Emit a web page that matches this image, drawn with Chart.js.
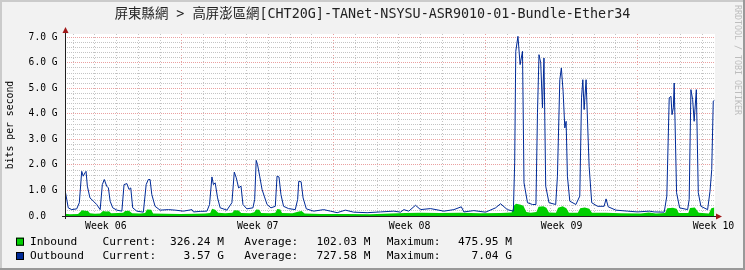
<!DOCTYPE html>
<html>
<head>
<meta charset="utf-8">
<script src="https://cdn.jsdelivr.net/npm/chart.js@4.4.1/dist/chart.umd.min.js"></script>
<style>
  html, body { margin: 0; padding: 0; background: #f2f2f2; }
  canvas { display: block; }
</style>
</head>
<body>
<canvas id="traffic" width="745" height="270"></canvas>
<script>
// Texts
const graphTitle = "屏東縣網 > 高屏澎區網[CHT20G]-TANet-NSYSU-ASR9010-01-Bundle-Ether34";
const yAxisTitle = "bits per second";
const watermark = "RRDTOOL / TOBI OETIKER";

// X axis: days from the left edge of the graph
const weekLabels = ["Week 06", "Week 07", "Week 08", "Week 09", "Week 10"];
const weekLabelDays = [1.88, 8.88, 15.88, 22.88, 29.88];
const dayLineStart = 0.38; // first day grid line, every 7th one is a week line
const dayCount = 30;
const xMax = 29.95;

// Y axis (Gbit/s)
const yTickValues = [0, 1, 2, 3, 4, 5, 6, 7];
const yTickLabels = ["0.0  ", "1.0 G", "2.0 G", "3.0 G", "4.0 G", "5.0 G", "6.0 G", "7.0 G"];
const yMax = 7.13;

// Outbound (Gbit/s)
const outDays = [0.00,0.15,0.31,0.54,0.66,0.77,0.84,0.92,0.97,1.03,
  1.15,1.31,1.46,1.62,1.72,1.81,1.92,2.00,2.08,2.20,
  2.39,2.62,2.72,2.85,2.95,3.03,3.12,3.31,3.61,3.74,
  3.84,3.92,4.00,4.15,4.38,4.77,5.08,5.46,5.85,5.92,
  6.23,6.54,6.66,6.77,6.84,6.92,7.03,7.15,7.46,7.69,
  7.80,7.89,8.00,8.11,8.20,8.38,8.66,8.74,8.81,8.87,
  8.97,9.08,9.18,9.31,9.49,9.69,9.77,9.86,9.95,10.07,
  10.30,10.61,10.72,10.77,10.88,10.97,11.12,11.46,11.92,12.23,
  12.54,12.92,13.30,13.92,14.54,15.15,15.46,15.61,15.84,16.15,
  16.38,16.84,17.46,17.92,18.26,18.38,18.84,19.38,19.84,20.07,
  20.38,20.66,20.72,20.77,20.87,20.97,21.08,21.15,21.31,21.54,
  21.70,21.77,21.84,21.92,22.00,22.07,22.15,22.30,22.61,22.69,
  22.80,22.87,22.95,23.03,23.09,23.15,23.26,23.54,23.72,23.80,
  23.86,23.92,24.01,24.15,24.27,24.54,24.84,24.93,25.03,25.38,
  25.92,26.38,26.92,27.15,27.61,27.73,27.84,27.92,27.97,28.03,
  28.07,28.18,28.32,28.69,28.76,28.84,28.92,28.99,29.09,29.18,
  29.30,29.61,29.72,29.80,29.87,29.92];
const outGbps = [1.03,0.32,0.25,0.28,0.52,1.75,1.56,1.69,1.75,1.17,
  0.71,0.58,0.45,0.25,1.23,1.43,1.17,1.10,0.58,0.32,
  0.23,0.19,1.23,1.27,1.04,1.10,0.32,0.19,0.15,1.23,
  1.43,1.43,0.84,0.38,0.23,0.25,0.23,0.19,0.25,0.16,
  0.18,0.19,0.45,1.53,1.23,1.30,0.71,0.32,0.23,0.52,
  1.72,1.50,1.10,1.17,0.45,0.28,0.32,0.65,2.18,2.02,
  1.56,1.04,0.78,0.45,0.32,0.38,1.56,1.53,0.84,0.38,
  0.29,0.25,0.65,1.36,1.34,0.71,0.28,0.19,0.25,0.19,
  0.13,0.23,0.15,0.13,0.16,0.19,0.15,0.25,0.19,0.42,
  0.25,0.29,0.19,0.25,0.36,0.16,0.21,0.15,0.32,0.48,
  0.25,0.19,2.08,6.45,7.04,5.93,6.45,1.30,0.52,0.45,
  0.45,4.04,6.32,6.00,4.24,6.19,1.17,0.52,0.45,1.56,
  5.34,5.80,4.89,3.45,3.71,1.56,0.58,0.45,0.78,4.63,
  5.34,4.17,5.34,1.95,0.52,0.38,0.38,0.67,0.36,0.23,
  0.19,0.16,0.19,0.16,0.15,0.78,4.63,4.69,3.97,4.24,
  5.21,0.91,0.32,0.25,0.65,4.95,4.56,3.71,4.95,0.91,
  0.38,0.25,0.97,1.82,4.50,4.53];

// Inbound (Gbit/s)
const inDays = [0.00,0.23,0.60,0.69,0.78,0.92,1.06,1.15,1.38,1.62,
  1.75,1.89,2.03,2.12,2.45,2.68,2.77,2.95,3.09,3.46,
  3.69,3.78,3.97,4.06,4.61,5.31,6.00,6.46,6.69,6.78,
  6.92,7.06,7.38,7.71,7.80,8.00,8.12,8.54,8.72,8.81,
  8.95,9.04,9.46,9.69,9.78,9.92,10.00,10.48,10.77,10.90,
  11.04,11.77,12.92,14.07,15.00,15.69,16.38,17.30,18.23,19.15,
  20.07,20.58,20.68,20.78,21.00,21.12,21.26,21.46,21.72,21.82,
  22.04,22.18,22.30,22.62,22.72,22.93,23.10,23.22,23.63,23.74,
  23.95,24.16,24.28,24.92,25.61,26.53,26.90,27.23,27.65,27.75,
  28.01,28.18,28.28,28.72,28.80,29.02,29.20,29.67,29.78,29.92];
const inGbps = [0.09,0.07,0.08,0.15,0.23,0.21,0.20,0.11,0.09,0.10,
  0.20,0.18,0.19,0.11,0.12,0.13,0.20,0.21,0.11,0.10,
  0.12,0.25,0.24,0.10,0.09,0.08,0.09,0.10,0.12,0.28,
  0.24,0.13,0.11,0.13,0.23,0.22,0.12,0.11,0.15,0.25,
  0.24,0.12,0.11,0.13,0.27,0.25,0.12,0.11,0.18,0.20,
  0.10,0.08,0.08,0.07,0.10,0.12,0.13,0.12,0.13,0.11,
  0.12,0.14,0.40,0.48,0.44,0.40,0.16,0.13,0.16,0.36,
  0.38,0.32,0.14,0.13,0.32,0.38,0.30,0.13,0.13,0.30,
  0.33,0.28,0.13,0.13,0.11,0.10,0.14,0.10,0.12,0.30,
  0.32,0.28,0.12,0.12,0.31,0.33,0.13,0.10,0.30,0.33];

// Legend table
const legendNames = ["Inbound", "Outbound"];
const legendCurrent = ["326.24 M", "3.57 G"];
const legendAverage = ["102.03 M", "727.58 M"];
const legendMaximum = ["475.95 M", "7.04 G"];

// Colours
const inColor = "#00cf00";
const outColor = "#002a97";
const gridMinor = "#c4c4c4";
const gridMajor = "#eaa0a0";
const mono = "'DejaVu Sans Mono', 'Noto Sans CJK TC', monospace";

// x ticks: day lines + week label positions (labels have no grid line)
const xTicks = [];
for (let k = 0; k < dayCount; k++) {
  const v = dayLineStart + k;
  if (v > xMax) break;
  xTicks.push({ value: v, kind: k % 7 === 5 ? "major" : "minor", label: "" });
}
weekLabels.forEach((w, i) => xTicks.push({ value: weekLabelDays[i], kind: "label", label: w }));
xTicks.sort((a, b) => a.value - b.value);

// y ticks every 0.2 G
const yTicks = [];
for (let k = 0; k <= 35; k++) {
  const v = k / 5;
  const major = k % 5 === 0;
  const idx = yTickValues.indexOf(Math.round(v));
  yTicks.push({ value: v, kind: major ? "major" : "minor", label: major ? yTickLabels[idx] : "" });
}

const frame = {
  id: "frame",
  beforeDraw(chart) {
    const { ctx, chartArea: a } = chart;
    ctx.save();
    ctx.fillStyle = "#f2f2f2";
    ctx.fillRect(0, 0, 745, 270);
    ctx.fillStyle = "#cbcbcb";
    ctx.fillRect(0, 0, 745, 2);
    ctx.fillRect(0, 0, 2, 270);
    ctx.fillStyle = "#999999";
    ctx.fillRect(0, 268, 745, 2);
    ctx.fillRect(743, 0, 2, 270);
    ctx.fillStyle = "#ffffff";
    ctx.fillRect(a.left, a.top, a.right - a.left, a.bottom - a.top);
    ctx.restore();
  },
  afterDraw(chart) {
    const { ctx, chartArea: a } = chart;
    ctx.save();
    // axes
    ctx.strokeStyle = "#202020";
    ctx.lineWidth = 1;
    ctx.beginPath();
    ctx.moveTo(a.left - 3, a.bottom + 0.5);
    ctx.lineTo(a.right + 3, a.bottom + 0.5);
    ctx.moveTo(a.left + 0.5, a.bottom + 3);
    ctx.lineTo(a.left + 0.5, a.top - 3);
    ctx.stroke();
    // arrows
    ctx.fillStyle = "#a01818";
    ctx.beginPath();
    ctx.moveTo(a.right + 1, a.bottom - 2.5);
    ctx.lineTo(a.right + 1, a.bottom + 3.5);
    ctx.lineTo(a.right + 7, a.bottom + 0.5);
    ctx.closePath();
    ctx.fill();
    ctx.beginPath();
    ctx.moveTo(a.left - 2.5, a.top - 1);
    ctx.lineTo(a.left + 3.5, a.top - 1);
    ctx.lineTo(a.left + 0.5, a.top - 7);
    ctx.closePath();
    ctx.fill();

    // title
    ctx.fillStyle = "#222";
    ctx.font = "13.4px " + mono;
    ctx.textAlign = "center";
    ctx.textBaseline = "middle";
    ctx.fillText(graphTitle, 372.5, 15);

    // watermark on the right edge
    ctx.save();
    ctx.translate(737, 60);
    ctx.rotate(Math.PI / 2);
    ctx.fillStyle = "#bdbdbd";
    ctx.font = "8.3px " + mono;
    ctx.fillText(watermark, 0, 0);
    ctx.restore();

    // legend
    const colors = [inColor, outColor];
    const rows = [241.7, 256];
    ctx.font = "11.2px " + mono;
    ctx.textBaseline = "middle";
    legendNames.forEach((name, i) => {
      const y = rows[i];
      ctx.fillStyle = colors[i];
      ctx.fillRect(16, y - 4, 8, 8);
      ctx.strokeStyle = "#000";
      ctx.strokeRect(16.5, y - 3.5, 7, 7);
      ctx.fillStyle = "#000";
      ctx.textAlign = "left";
      ctx.fillText(name, 30, y);
      ctx.fillText("Current:", 102.4, y);
      ctx.fillText("Average:", 244.3, y);
      ctx.fillText("Maximum:", 386.7, y);
      ctx.textAlign = "right";
      ctx.fillText(legendCurrent[i], 224, y);
      ctx.fillText(legendAverage[i], 370.5, y);
      ctx.fillText(legendMaximum[i], 512, y);
    });
    ctx.restore();
  }
};

const ctx = document.getElementById("traffic").getContext("2d");
new Chart(ctx, {
  type: "line",
  data: {
    datasets: [
      {
        label: "Outbound",
        data: outDays.map((d, i) => ({ x: d, y: outGbps[i] })),
        borderColor: outColor,
        borderWidth: 1,
        pointRadius: 0,
        tension: 0,
        fill: false,
        order: 0
      },
      {
        label: "Inbound",
        data: inDays.map((d, i) => ({ x: d, y: inGbps[i] })),
        borderColor: inColor,
        borderWidth: 0,
        backgroundColor: inColor,
        pointRadius: 0,
        tension: 0,
        fill: "origin",
        order: 1
      }
    ]
  },
  options: {
    responsive: false,
    animation: false,
    devicePixelRatio: 1,
    layout: { padding: { top: 34, right: 30, left: 0, bottom: 0 } },
    plugins: {
      legend: { display: false },
      tooltip: { enabled: false },
      title: { display: false }
    },
    scales: {
      x: {
        type: "linear",
        min: 0,
        max: xMax,
        afterFit: (s) => { s.height = 54; },
        afterBuildTicks: (s) => { s.ticks = xTicks.map((t) => ({ value: t.value })); },
        grid: {
          drawTicks: false,
          lineWidth: 1,
          color: (c) => {
            const t = xTicks[c.index];
            if (!t || t.kind === "label") return "rgba(0,0,0,0)";
            return t.kind === "major" ? gridMajor : gridMinor;
          }
        },
        border: { display: false, dash: [1, 2] },
        ticks: {
          autoSkip: false,
          maxRotation: 0,
          padding: 4,
          color: "#000",
          font: { family: mono, size: 9.9 },
          callback: (v, i) => xTicks[i].label
        }
      },
      y: {
        min: 0,
        max: yMax,
        afterFit: (s) => { s.width = 65; },
        afterBuildTicks: (s) => { s.ticks = yTicks.map((t) => ({ value: t.value })); },
        grid: {
          drawTicks: false,
          lineWidth: 1,
          color: (c) => {
            const t = yTicks[c.index];
            if (!t) return "rgba(0,0,0,0)";
            return t.kind === "major" ? gridMajor : gridMinor;
          }
        },
        border: { display: false, dash: [1, 1] },
        ticks: {
          autoSkip: false,
          padding: 7.5,
          color: "#000",
          font: { family: mono, size: 9.6 },
          callback: (v, i) => yTicks[i].label
        },
        title: {
          display: true,
          text: yAxisTitle,
          color: "#000",
          font: { family: mono, size: 9.8 },
          padding: { top: 5, bottom: 5 }
        }
      }
    }
  },
  plugins: [frame]
});
</script>
</body>
</html>
